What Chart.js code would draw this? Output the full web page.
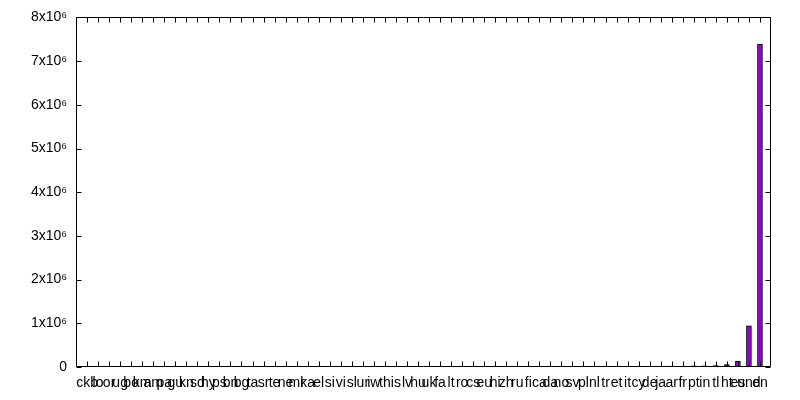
<!DOCTYPE html>
<html><head><meta charset="utf-8">
<script src="https://cdn.jsdelivr.net/npm/chart.js@4"></script>
<style>html,body{margin:0;padding:0;background:#fff}#wrap{width:800px;height:400px}</style>
</head><body><div id="wrap"><canvas id="c" width="800" height="400"></canvas></div>
<script>
const languages = ["ckb","lo","or","ug","bo","km","am","pa","gu","kn","sd","hy","ps","bn","bg","ta","sr","te","ne","mr","ka","el","si","vi","sl","ur","iw","th","is","lv","hu","uk","fa","lt","ro","cs","eu","hi","zh","ru","fi","ca","da","no","sv","pl","nl","tr","et","it","cy","de","ja","ar","fr","pt","in","tl","ht","es","und","en"];
const tweetCounts = [3,5,8,10,14,18,22,30,38,45,55,70,85,100,120,140,160,190,220,260,300,350,400,460,520,600,680,760,850,950,1050,1200,1350,1500,1700,1900,2100,2400,2700,3000,3400,3800,4200,4700,5200,5800,6500,7200,8000,8800,9500,10500,18000,20000,22000,25000,28000,32000,55000,135000,940000,7390000];
const yTickLabels = ["0","1x10\u2076","2x10\u2076","3x10\u2076","4x10\u2076","5x10\u2076","6x10\u2076","7x10\u2076","8x10\u2076"];
const yStep = 1000000;

const points = languages.map((l, i) => ({x: i + 1, y: tweetCounts[i]}));
const FONT = {family: "'Liberation Sans', Arial, sans-serif", size: 14};

const frame = {
  id: 'frame',
  afterDatasetsDraw(chart) {
    const {ctx, chartArea: a, scales: {x, y}} = chart;
    const L = Math.round(a.left) + 0.5, R = Math.round(a.right) - 0.5;
    const T = Math.round(a.top) + 0.5, B = Math.round(a.bottom) - 0.5;
    ctx.save();
    ctx.strokeStyle = '#000';
    ctx.lineWidth = 1;
    ctx.beginPath();
    ctx.moveTo(L, T); ctx.lineTo(R, T); ctx.lineTo(R, B); ctx.lineTo(L, B); ctx.closePath();
    const len = 5;
    for (let i = 1; i <= languages.length; i++) {
      const px = Math.round(x.getPixelForValue(i)) + 0.5;
      ctx.moveTo(px, B); ctx.lineTo(px, B - len);
      ctx.moveTo(px, T); ctx.lineTo(px, T + len);
    }
    for (let k = 0; k < yTickLabels.length; k++) {
      const py = Math.round(y.getPixelForValue(k * yStep)) + 0.5;
      ctx.moveTo(L, py); ctx.lineTo(L + len, py);
      ctx.moveTo(R, py); ctx.lineTo(R - len, py);
    }
    ctx.stroke();
    ctx.restore();
  }
};

new Chart(document.getElementById('c'), {
  type: 'bar',
  data: {
    datasets: [{
      data: points,
      backgroundColor: '#9400d3',
      borderColor: '#000000',
      borderWidth: 1,
      barThickness: 5
    }]
  },
  options: {
    responsive: false,
    animation: false,
    layout: {padding: {top: 15, right: 29, left: 0, bottom: 0}},
    plugins: {legend: {display: false}, tooltip: {enabled: false}},
    scales: {
      x: {
        type: 'linear',
        min: 0,
        max: languages.length + 1,
        offset: false,
        grid: {display: false, drawTicks: false},
        border: {display: false},
        ticks: {
          stepSize: 1,
          autoSkip: false,
          maxRotation: 0,
          minRotation: 0,
          padding: 8,
          color: '#000',
          font: FONT,
          callback: (v) => languages[v - 1] || ''
        },
        afterFit(s) { s.height = 33; }
      },
      y: {
        min: 0,
        max: yStep * (yTickLabels.length - 1),
        grid: {display: false, drawTicks: false},
        border: {display: false},
        ticks: {
          stepSize: yStep,
          padding: 9,
          color: '#000',
          font: FONT,
          callback: (v) => yTickLabels[Math.round(v / yStep)]
        },
        afterFit(s) { s.width = 76; }
      }
    }
  },
  plugins: [frame]
});
</script>
</body></html>
